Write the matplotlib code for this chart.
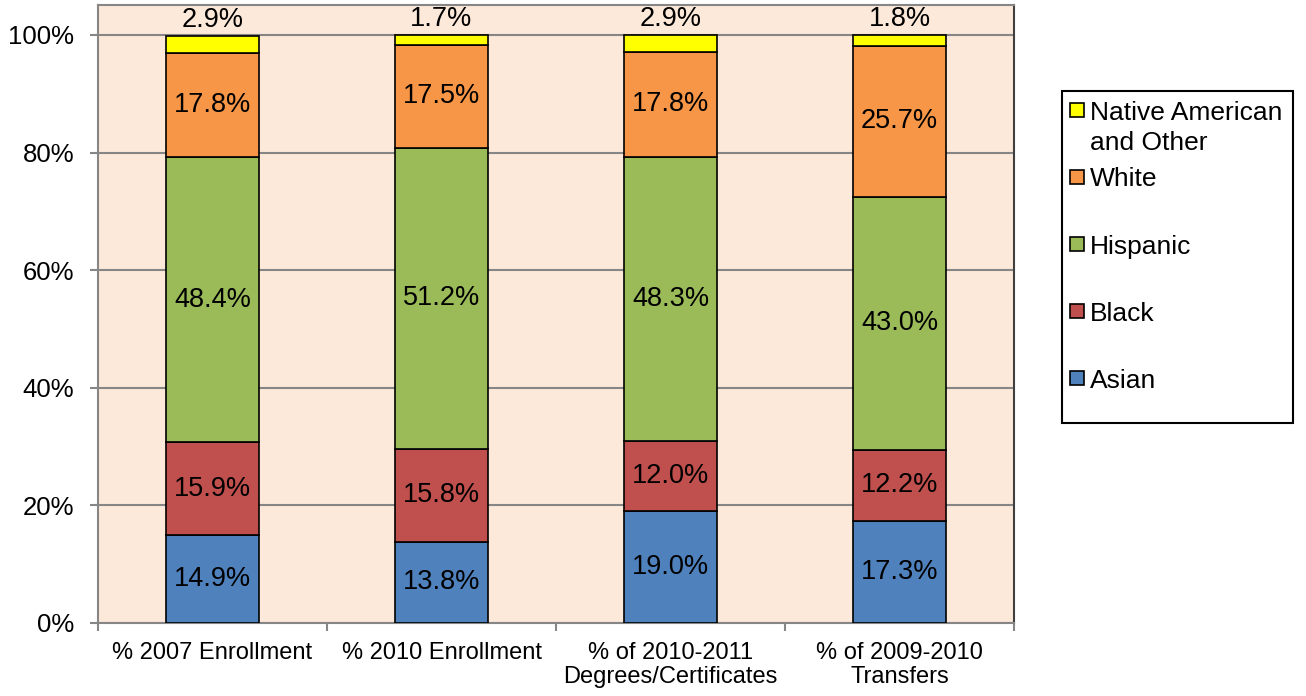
import matplotlib
matplotlib.use("Agg")
import matplotlib.pyplot as plt
import numpy as np
from matplotlib.patches import Rectangle

plt.rcParams['font.family'] = ['Liberation Sans', 'DejaVu Sans']

categories = ["% 2007 Enrollment", "% 2010 Enrollment",
              "% of 2010-2011\nDegrees/Certificates", "% of 2009-2010\nTransfers"]
series_names = ["Asian", "Black", "Hispanic", "White", "Native American\nand Other"]
asian = [14.9, 13.8, 19.0, 17.3]
black = [15.9, 15.8, 12.0, 12.2]
hispanic = [48.4, 51.2, 48.3, 43.0]
white = [17.8, 17.5, 17.8, 25.7]
native = [2.9, 1.7, 2.9, 1.8]
yticks = [0, 20, 40, 60, 80, 100]

colors = ["#4F81BD", "#C0504D", "#9BBB59", "#F79646", "#FFFF00"]
series = [asian, black, hispanic, white, native]

W, H = 1306, 696
fig = plt.figure(figsize=(W / 100, H / 100), dpi=100)
ax = fig.add_axes([98 / W, 1 - 623 / H, (1014 - 98) / W, (623 - 5) / H])
ax.set_facecolor("#FDE9D9")

x = np.arange(len(categories))
bottom = np.zeros(len(categories))
for name, vals, c in zip(series_names, series, colors):
    vals = np.array(vals)
    ax.bar(x, vals, width=0.41, bottom=bottom, color=c,
           edgecolor="black", linewidth=1.2, zorder=3)
    for xi, b, v in zip(x, bottom, vals):
        if v < 5:
            ax.text(xi, b + v + 0.5, f"{v:.1f}%", ha="center", va="bottom",
                    fontsize=19.5, zorder=4)
        else:
            ax.text(xi, b + v / 2, f"{v:.1f}%", ha="center", va="center",
                    fontsize=19.5, zorder=4)
    bottom = bottom + vals

ax.set_xlim(-0.5, len(categories) - 0.5)
ax.set_ylim(0, 105.1)
ax.set_yticks(yticks)
ax.set_yticklabels([f"{t}%" for t in yticks], fontsize=18.5)
ax.yaxis.grid(True, color="#868686", linewidth=1.5, zorder=0)
ax.set_axisbelow(True)

ax.set_xticks(x)
ax.set_xticklabels(categories, fontsize=17, linespacing=1.1)
ax.tick_params(axis="x", length=0, pad=14)
ax.set_xticks(np.arange(len(categories) + 1) - 0.5, minor=True)
ax.tick_params(axis="x", which="minor", length=6, width=1.5, color="#868686", direction="out")
ax.tick_params(axis="y", length=6, width=1.5, color="#868686", direction="out", pad=11)

for s in ["left", "bottom", "top"]:
    ax.spines[s].set_color("#868686")
    ax.spines[s].set_linewidth(1.5)
ax.spines["right"].set_color("#404040")
ax.spines["right"].set_linewidth(1.5)

# Legend drawn in Excel style (fixed entry pitch)
def fx(px):
    return px / W

def fy(py):
    return 1 - py / H

fig.patches.append(Rectangle((fx(1062), fy(423)), fx(1293) - fx(1062), fy(91) - fy(423),
                             transform=fig.transFigure, facecolor="white",
                             edgecolor="black", linewidth=1.5, zorder=1))
entry_y = [110, 177, 244, 311, 378]
for name, c, ey in zip(series_names[::-1], colors[::-1], entry_y):
    fig.patches.append(Rectangle((fx(1070), fy(ey + 7)), fx(1084) - fx(1070), fy(ey - 7) - fy(ey + 7),
                                 transform=fig.transFigure, facecolor=c,
                                 edgecolor="black", linewidth=1.2, zorder=2))
    lines = name.split("\n")
    for i, ln in enumerate(lines):
        fig.text(fx(1090), fy(ey + 30 * i), ln, ha="left", va="center_baseline",
                 fontsize=19, zorder=3)

fig.savefig("out.png", dpi=100)
